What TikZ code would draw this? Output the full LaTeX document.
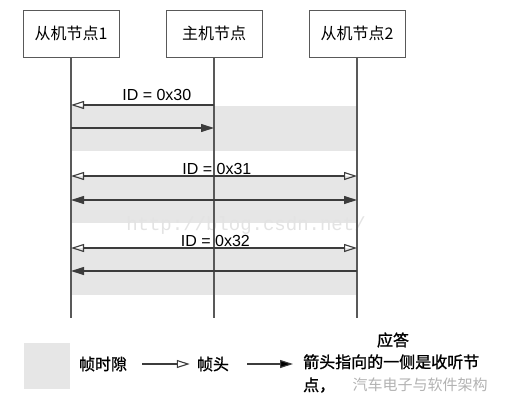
\documentclass[tikz,border=0pt]{standalone}
\usepackage{fontspec}
\setmainfont{Liberation Sans}
\newfontfamily\cjk{Noto Sans CJK SC}
\newfontfamily\cjkb[FakeBold=1.2]{Noto Sans CJK SC}
\newfontfamily\wmfont{Liberation Mono}
\usetikzlibrary{positioning,arrows.meta}
\definecolor{slotgray}{HTML}{E6E6E6}
\definecolor{linegray}{HTML}{3C3C3C}
\tikzset{
  cn/.style={font=\cjk\fontsize{16}{23}\selectfont},
  cnb/.style={font=\cjkb\fontsize{16}{23}\selectfont},
  box/.style={draw=linegray!85,thick,minimum width=96pt,minimum height=47pt,cn},
  msg/.style={draw=linegray,line width=1.1pt},
  hdr/.style={-{Triangle[open,length=13pt,width=8pt]}},
  hdrs/.style={{Triangle[open,length=13pt,width=8pt]}-{Triangle[open,length=13pt,width=8pt]}},
  ack/.style={-{Triangle[length=13pt,width=8pt]}},
  acks/.style={{Triangle[length=13pt,width=8pt]}-{Triangle[length=13pt,width=8pt]}},
}

\begin{document}
\begin{tikzpicture}[x=1pt,y=-1pt,node distance=143pt,font=\fontsize{16}{23}\selectfont]
    \useasboundingbox (0,0) rectangle (508,407);

    \node[box](n1) at (71,33.5){从机节点1};
    \node[box,right of=n1](n2){主机节点};
    \node[box,right of=n2](n3){从机节点2};

    \coordinate (r1) at (0,105);
    \coordinate (r2) at (0,128);
    \coordinate (r3) at (0,176);
    \coordinate (r4) at (0,200);
    \coordinate (r5) at (0,248);
    \coordinate (r6) at (0,271);
    \coordinate (e) at (0,318);

    % frame slots
    \fill[slotgray] (n1 |- 0,106) rectangle (n3 |- 0,151);
    \fill[slotgray] (n1 |- r3) rectangle (n3 |- 0,223);
    \fill[slotgray] (n1 |- r5) rectangle (n3 |- 0,295);

    \node[text=gray!22,font=\wmfont\fontsize{19}{19}\selectfont](wm) at (246,226){http://blog.csdn.net/};

    \draw[linegray!85,line width=1.2pt] (n1.south) -- (n1 |- e);
    \draw[linegray!85,line width=1.2pt] (n2.south) -- (n2 |- e);
    \draw[linegray!85,line width=1.2pt] (n3.south) -- (n3 |- e);

    \draw[msg,hdr] (n2 |- r1) -- (n1 |- r1) node[pos=0.4,above]{ID = 0x30};
    \draw[msg,ack] (n1 |- r2) -- (n2 |- r2);
    \draw[msg,hdrs] (n1 |- r3) -- (n3 |- r3) node[pos=0.51,above,inner sep=0.5pt]{ID = 0x31};
    \draw[msg,acks] (n1 |- r4) -- (n3 |- r4);
    \draw[msg,hdrs] (n1 |- r5) -- (n3 |- r5) node[pos=0.505,above,inner sep=0.5pt]{ID = 0x32};
    \draw[msg,ack] (n3 |- r6) -- (n1 |- r6);

    % legend
    \node[fill=slotgray,minimum size=46pt,inner sep=0](lg) at (47,366){};
    \node[cnb,inner sep=0](t1) at (103,364){帧时隙};
    \node[cnb,inner sep=0](t2) at (213,364){帧头};
    \node[cnb,inner sep=0](t3) at (393,340){应答};
    \node[cnb,inner sep=0,align=left,anchor=west](t4) at (303,373.5){箭头指向的一侧是收听节\\点，};
    \node[text=gray!60,font=\cjk\fontsize{15}{15}\selectfont](wx) at (420,385){汽车电子与软件架构};
    \path[msg] (t1) edge [hdr,shorten <=15pt,shorten >=7pt] (t2)
    (t2) edge [ack,shorten <=18pt,shorten >=10pt] (t2 -| t4.west);

\end{tikzpicture}
\end{document}
